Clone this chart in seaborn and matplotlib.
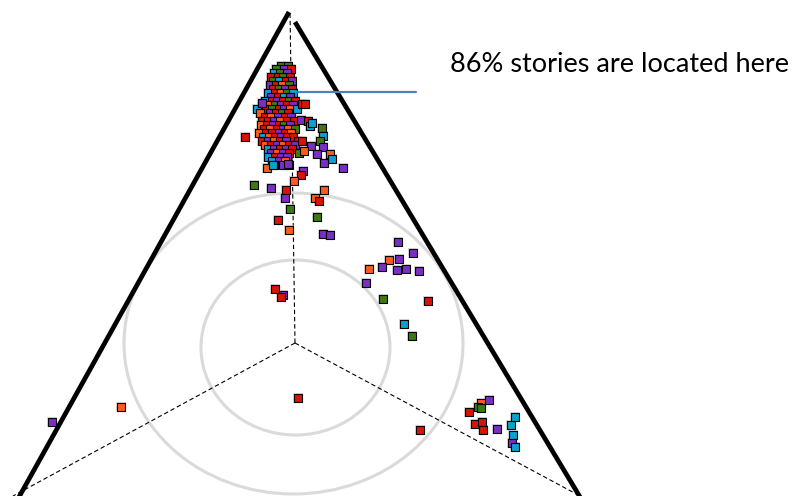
import matplotlib
matplotlib.use("Agg")
import matplotlib.pyplot as plt
from matplotlib.patches import Ellipse
import seaborn as sns
import pandas as pd

# ---- data (positions on the ternary canvas, pixel-like units, y downward) ----
R, O, P, G, T = "red", "orange", "purple", "green", "teal"

cluster_rows = [
    (66, [(281, G), (288, G)]),
    (69, [(276, G), (284, P), (291, R)]),
    (73, [(274, T), (280, G), (287, P)]),
    (77, [(271, R), (278, R), (283, G), (290, R)]),
    (81, [(273, G), (279, T), (286, R), (292, P)]),
    (85, [(270, P), (276, R), (282, O), (289, G)]),
    (89, [(273, R), (279, G), (285, P), (292, R)]),
    (93, [(268, T), (275, R), (281, O), (287, G), (293, T)]),
    (97, [(271, P), (278, R), (284, T), (290, P)]),
    (101, [(265, T), (272, R), (277, P), (283, R), (289, G), (295, R)]),
    (105, [(262, P), (269, O), (275, G), (281, P), (287, R), (293, P)]),
    (109, [(257, T), (266, R), (272, G), (279, R), (284, P), (290, O), (297, T)]),
    (113, [(260, O), (270, P), (276, R), (282, G), (288, R)]),
    (117, [(265, R), (271, O), (278, P), (285, R), (291, P)]),
    (121, [(262, R), (268, R), (274, P), (280, O), (287, R), (294, R)]),
    (125, [(261, O), (267, R), (273, P), (279, R), (284, G), (290, P)]),
    (129, [(264, R), (270, O), (277, R), (283, P), (288, O), (295, G)]),
    (133, [(259, O), (266, R), (272, R), (279, P), (285, R), (291, O)]),
    (137, [(263, T), (269, O), (275, R), (281, P), (287, R), (293, R)]),
    (141, [(262, R), (268, P), (274, O), (280, R), (286, P), (298, R)]),
    (145, [(265, O), (271, R), (277, P), (283, O), (289, R), (295, P)]),
    (149, [(268, T), (274, P), (280, R), (286, P), (292, R)]),
    (153, [(271, P), (277, O), (283, P), (289, R), (299, G)]),
    (157, [(268, T), (275, R), (281, P), (287, P)]),
    (161, [(272, T), (279, P), (285, O)]),
    (165, [(274, T), (283, P), (289, P)]),
]

scatter_x = [302, 305, 301, 308, 310, 312, 322, 323, 320, 323, 311, 304, 317, 330, 332,
             324, 343, 303, 301, 302, 245, 262, 267, 273, 288,
             254, 271, 286, 294, 324, 285, 315, 319, 290, 317, 278, 289, 323, 330,
             398, 413, 389, 399, 369, 382, 397, 406, 419, 366, 383, 428, 404, 412,
             275, 283, 281, 298, 121, 420, 52,
             481, 489, 478, 481, 469, 475, 482, 483, 497, 515, 511, 513, 512, 515]
scatter_y = [104, 104, 120, 121, 126, 123, 128, 136, 141, 147, 146, 151, 154, 154, 159,
             163, 168, 171, 175, 141, 137, 103, 168, 165, 164,
             185, 188, 190, 181, 190, 198, 198, 201, 209, 217, 220, 230, 234, 235,
             242, 253, 260, 259, 269, 267, 270, 269, 271, 283, 299, 301, 324, 336,
             289, 295, 297, 398, 407, 430, 422,
             403, 400, 407, 408, 412, 424, 422, 430, 429, 417, 425, 435, 443, 447]
scatter_group = [R, R, P, R, T, T, G, T, G, P, P, O, P, O, T,
                 P, P, P, R, R, R, P, O, T, P,
                 G, P, R, O, O, P, O, R, G, G, R, O, P, P,
                 P, P, O, P, O, P, P, P, P, P, G, R, T, G,
                 R, P, R, R, O, R, P,
                 O, P, G, G, R, R, R, R, P, T, T, T, P, T]

palette = {R: "#D81408", O: "#FF5A1F", P: "#7A2FC4", G: "#3D7A12", T: "#0AA0D0"}

xs, ys, gs = [], [], []
for y, pts in cluster_rows:
    for x, g in pts:
        xs.append(x); ys.append(y); gs.append(g)
xs += scatter_x; ys += scatter_y; gs += scatter_group
df = pd.DataFrame({"x": xs, "y": ys, "group": gs})

apex_left = (289, 12)
apex_right = (295, 22)
bottom_left = (14, 496)
bottom_right = (583, 496)
center = (295, 343)

sns.set_style("white")
fig = plt.figure(figsize=(7.96, 4.96), dpi=100)
ax = fig.add_axes([0, 0, 1, 1])
ax.set_xlim(0, 796)
ax.set_ylim(496, 0)
ax.axis("off")

# guide circles
ax.add_patch(Ellipse((293.5, 343.5), 339, 301, fill=False, ec="#dadada", lw=2.2))
ax.add_patch(Ellipse((295.5, 347.5), 189, 175, fill=False, ec="#dadada", lw=2.2))

# dashed axes
for end in [(290, 12), (13, 496), (580, 496)]:
    ax.plot([center[0], end[0]], [center[1], end[1]], color="black", lw=0.8,
            ls=(0, (4, 2.5)))

# triangle edges
ax.plot([bottom_left[0], apex_left[0]], [bottom_left[1] + 10, apex_left[1]],
        color="black", lw=3.4, solid_capstyle="butt")
ax.plot([apex_right[0], bottom_right[0]], [apex_right[1], bottom_right[1] + 6],
        color="black", lw=3.4, solid_capstyle="butt")

# halo + points
ax.scatter(df["x"], df["y"], marker="s", s=52, color="#bfbfbf", alpha=0.6,
           linewidths=0, zorder=3)
sns.scatterplot(data=df, x="x", y="y", hue="group", palette=palette, marker="s",
                s=28, edgecolor="black", linewidth=0.8, legend=False, ax=ax, zorder=4)
ax.set_xlim(0, 796)
ax.set_ylim(496, 0)
ax.axis("off")

# annotation
ax.plot([298, 416], [92, 92], color="#4F81BD", lw=1.6, zorder=5)
ax.text(450, 65, "86% stories are located here", fontsize=19.5, family="Lato",
        ha="left", va="center", color="black")

fig.savefig("out.png", dpi=100)
